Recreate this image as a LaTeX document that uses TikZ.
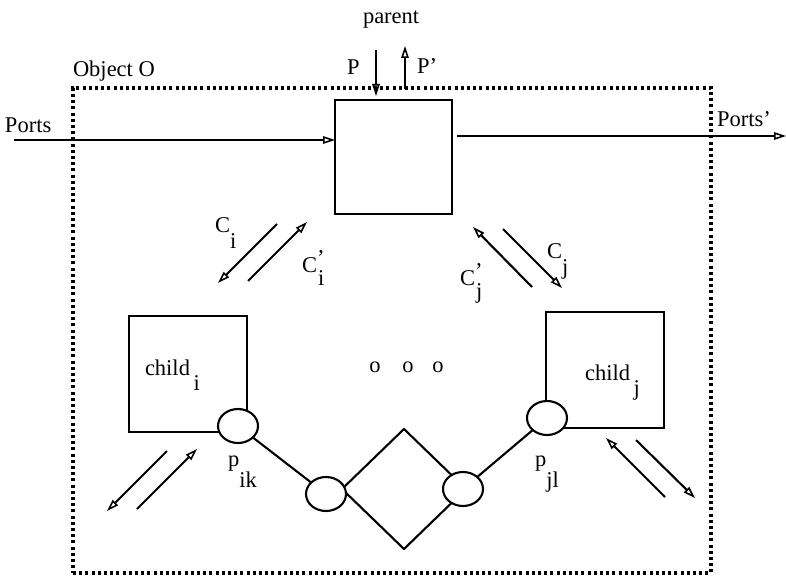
\documentclass[tikz,border=0pt]{standalone}
\usepackage{fontspec}
\setmainfont{Liberation Serif}
\usetikzlibrary{arrows.meta,shapes.geometric}
\newcommand{\lowsub}[2][0.7em]{\raisebox{-#1}{#2}}
\newcommand{\primesub}[1]{\rlap{\kern0.05em\raisebox{-0.62em}{#1}}\raisebox{0.3em}{'}}
\begin{document}
\begin{tikzpicture}[x=1pt,y=-1pt,
  every node/.style={font=\fontsize{22.5}{26}\selectfont, inner sep=0pt, outer sep=0pt},
  lbl/.style={anchor=base west},
  solid line/.style={line width=2.1pt},
  box/.style={draw, solid line, rectangle, minimum width=118pt, minimum height=116pt},
  port/.style={draw, solid line, ellipse, fill=white, minimum width=40pt, minimum height=34pt},
  frame/.style={draw, line width=3.2pt, dash pattern=on 3pt off 3.2pt, rectangle},
  flow/.style={solid line, -{Triangle[open, length=12pt, width=7.5pt, line width=1.6pt]}}
]
\useasboundingbox (0,0) rectangle (786,580);

% enclosing object
\node[frame, minimum width=638pt, minimum height=485pt] (frame) at (392,330.5) {};
\node[lbl] (objlabel) at (73,77) {Object O};

% parent interface
\node[lbl] (parent) at (363,24) {parent};
\node[draw, solid line, rectangle, minimum width=117pt, minimum height=114pt] (obj) at (393.5,157) {};
\coordinate (pin) at (376,50);
\coordinate (pinend) at (376,96);
\coordinate (pout) at (405,89);
\coordinate (poutend) at (405,46);
\draw[flow] (pin) -- (pinend);
\draw[flow] (pout) -- (poutend);
\node[lbl] (plabel) at (347,75) {P};
\node[lbl] (pplabel) at (417,74) {P'};

% external ports
\coordinate (portsin) at (14,140);
\draw[flow] (portsin) -- (portsin -| obj.west);
\node[lbl] (portslabel) at (5,133) {Ports};
\coordinate (portsoutstart) at (457,136);
\coordinate (portsout) at (786,136);
\draw[flow] (portsoutstart) -- (portsout);
\node[lbl] (portsplabel) at (717,127) {Ports'};

% children
\node[box] (childi) at (188,374) {};
\node[box] (childj) at (605,370) {};
\node[lbl] (childilabel) at (145,375) {child\,\lowsub{i}};
\node[lbl] (childjlabel) at (585,380) {child\,\lowsub{j}};

% channels to child i
\coordinate (ci1) at (277,224);
\coordinate (ci2) at (218,283);
\coordinate (cpi1) at (248,281);
\coordinate (cpi2) at (307,222);
\draw[flow] (ci1) -- (ci2);
\draw[flow] (cpi1) -- (cpi2);
\node[lbl] (cilabel) at (215,232) {C\lowsub[0.72em]{i}};
\node[lbl] (cpilabel) at (302,272) {C\primesub{i}};

% channels to child j
\coordinate (cpj1) at (532,287);
\coordinate (cpj2) at (473,227);
\coordinate (cj1) at (503,229);
\coordinate (cj2) at (562,288);
\draw[flow] (cpj1) -- (cpj2);
\draw[flow] (cj1) -- (cj2);
\node[lbl] (cjlabel) at (547,258) {C\lowsub[0.75em]{j}};
\node[lbl] (cpjlabel) at (460,285) {C\primesub{j}};

% further children
\node (dot1) at (375,367) {o};
\node (dot2) at (408,367) {o};
\node (dot3) at (438,367) {o};

% connection between child ports
\node[draw, solid line, diamond, minimum width=124pt, minimum height=120pt] (link) at (404,489) {};
\node[port] (pik) at (238,426) {};
\node[port] (dl) at (326,494) {};
\node[port] (dr) at (463,489) {};
\node[port] (pjl) at (547,418) {};
\draw[solid line] (pik) -- (dl);
\draw[solid line] (dr) -- (pjl);
\node[lbl] (piklabel) at (228,466) {p\lowsub[0.95em]{ik}};
\node[lbl] (pjllabel) at (535,466) {p\lowsub[0.95em]{jl}};

% channels of the lower ports
\coordinate (bl1) at (167,451);
\coordinate (bl2) at (107,511);
\coordinate (bl3) at (137,509);
\coordinate (bl4) at (197,449);
\draw[flow] (bl1) -- (bl2);
\draw[flow] (bl3) -- (bl4);
\coordinate (br1) at (665,497);
\coordinate (br2) at (606,438);
\coordinate (br3) at (636,440);
\coordinate (br4) at (695,498);
\draw[flow] (br1) -- (br2);
\draw[flow] (br3) -- (br4);
\end{tikzpicture}
\end{document}
